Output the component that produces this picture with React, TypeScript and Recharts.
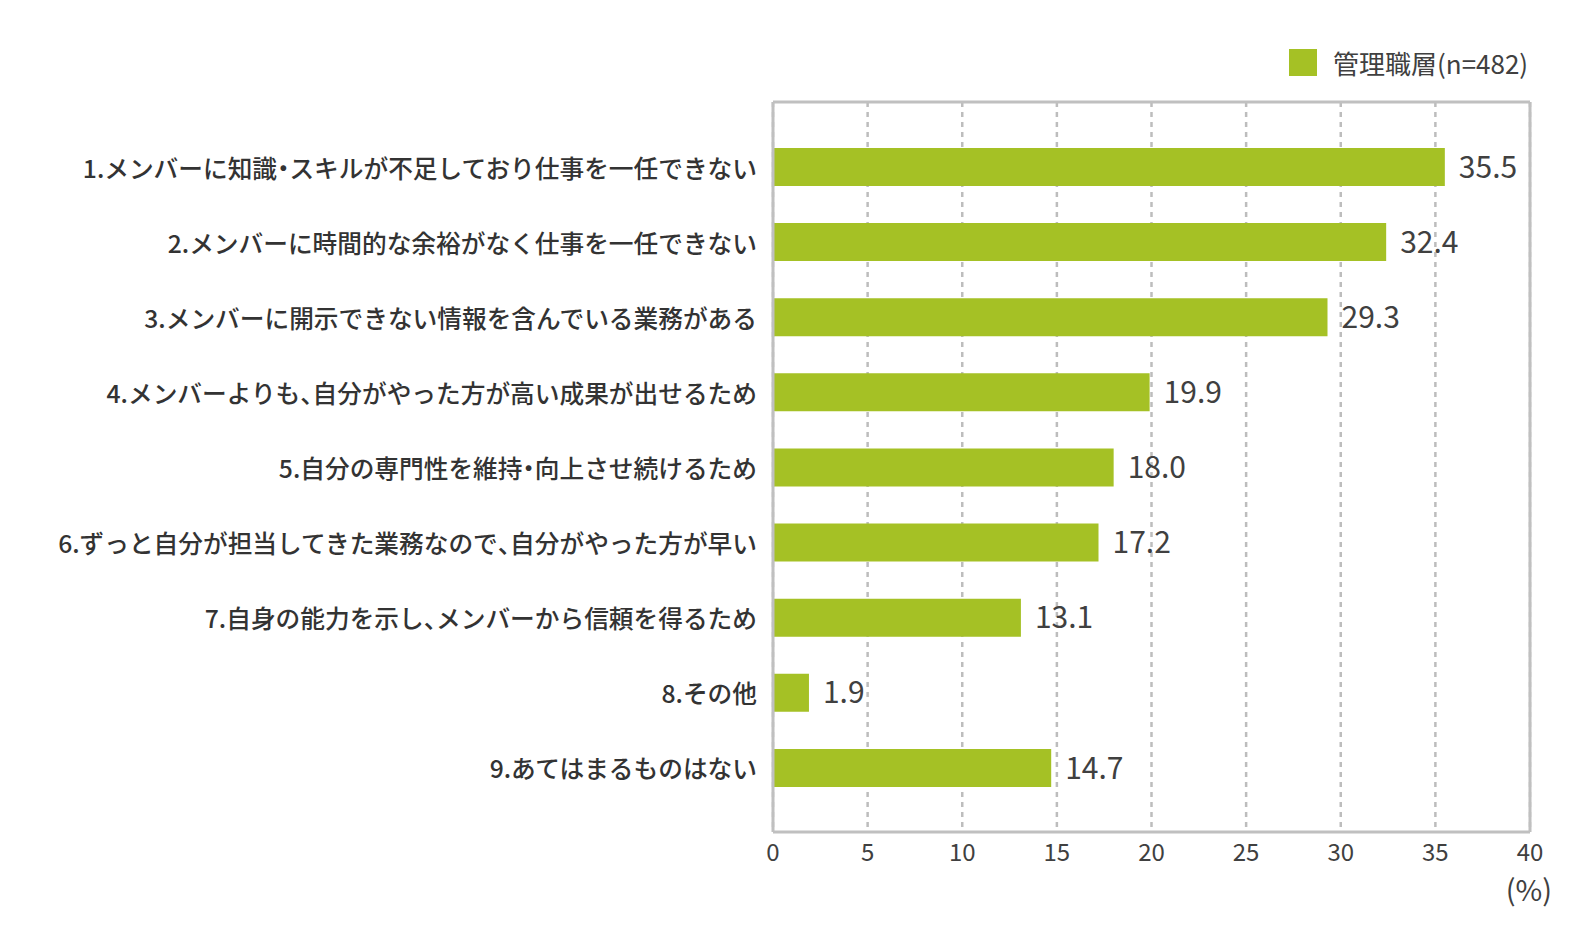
import { BarChart, Bar, XAxis, YAxis, CartesianGrid, LabelList } from "recharts";

const CATEGORIES = [
    "1.メンバーに知識・スキルが不足しており仕事を一任できない",
    "2.メンバーに時間的な余裕がなく仕事を一任できない",
    "3.メンバーに開示できない情報を含んでいる業務がある",
    "4.メンバーよりも、自分がやった方が高い成果が出せるため",
    "5.自分の専門性を維持・向上させ続けるため",
    "6.ずっと自分が担当してきた業務なので、自分がやった方が早い",
    "7.自身の能力を示し、メンバーから信頼を得るため",
    "8.その他",
    "9.あてはまるものはない",
];

const MANAGERS = [35.5, 32.4, 29.3, 19.9, 18.0, 17.2, 13.1, 1.9, 14.7];

const X_TICKS = [0, 5, 10, 15, 20, 25, 30, 35, 40];

const SERIES_NAME = "管理職層(n=482)";

const BAR_COLOR = "#a5c125";
const BORDER = { stroke: "#c0c0c0", strokeWidth: 3 };
const FONT = '"Noto Sans CJK JP", "Noto Sans", sans-serif';

const chartData = CATEGORIES.map((name, i) => ({ name, value: MANAGERS[i] }));

// category labels: half-width punctuation like the original
const CategoryTick = ({ x, y, payload }: any) => {
    const parts = String(payload.value).split(/([・、])/).filter((p) => p !== "");
    return (
        <text
            x={x}
            y={y}
            textAnchor="end"
            dominantBaseline="central"
            fill="#333333"
            fontSize={24.7}
            fontWeight={500}
            fontFamily={FONT}
        >
            {parts.map((p, i) =>
                p === "・" || p === "、" ? (
                    <tspan key={i} style={{ fontFeatureSettings: '"halt"' }}>{p}</tspan>
                ) : (
                    <tspan key={i}>{p}</tspan>
                )
            )}
        </text>
    );
};

export default function App() {
    return (
        <div style={{ position: "absolute", left: 0, top: 0, width: 1580, height: 941, background: "#fff", fontFamily: FONT }}>
            <BarChart
                width={1580}
                height={941}
                data={chartData}
                layout="vertical"
                margin={{ top: 101, right: 49, bottom: 59, left: 0 }}
                barCategoryGap="24%"
            >
                <CartesianGrid
                    horizontal={false}
                    stroke="#bdbdbd"
                    strokeWidth={2.5}
                    strokeDasharray="5 5"
                />
                <XAxis
                    type="number"
                    domain={[0, 40]}
                    ticks={X_TICKS}
                    axisLine={BORDER}
                    tickLine={false}
                    tickSize={0}
                    tickMargin={12}
                    height={50}
                    tick={{ fill: "#404040", fontSize: 24, fontFamily: FONT }}
                />
                <XAxis
                    xAxisId="top"
                    orientation="top"
                    type="number"
                    domain={[0, 40]}
                    height={1}
                    axisLine={BORDER}
                    tick={false}
                    tickLine={false}
                />
                <YAxis
                    type="category"
                    dataKey="name"
                    width={773}
                    axisLine={BORDER}
                    tickLine={false}
                    tickSize={0}
                    tickMargin={16}
                    interval={0}
                    padding={{ top: 27, bottom: 27 }}
                    tick={<CategoryTick />}
                />
                <YAxis
                    yAxisId="right"
                    orientation="right"
                    type="category"
                    dataKey="name"
                    width={1}
                    axisLine={BORDER}
                    tick={false}
                    tickLine={false}
                />
                <Bar dataKey="value" fill={BAR_COLOR} isAnimationActive={false} barSize={38}>
                    <LabelList
                        dataKey="value"
                        position="right"
                        offset={14}
                        formatter={(v: any) => Number(v).toFixed(1)}
                        style={{ fill: "#404040", fontSize: 30, fontFamily: FONT }}
                    />
                </Bar>
            </BarChart>

            {/* legend */}
            <div style={{ position: "absolute", left: 1289, top: 49, display: "flex", alignItems: "center" }}>
                <div style={{ width: 28, height: 27, background: BAR_COLOR }} />
                <span style={{ marginLeft: 16, fontSize: 26, color: "#404040", lineHeight: "27px" }}>{SERIES_NAME}</span>
            </div>

            {/* unit */}
            <div style={{ position: "absolute", right: 28, top: 874, fontSize: 29, color: "#404040", lineHeight: "28px" }}>(%)</div>
        </div>
    );
}
